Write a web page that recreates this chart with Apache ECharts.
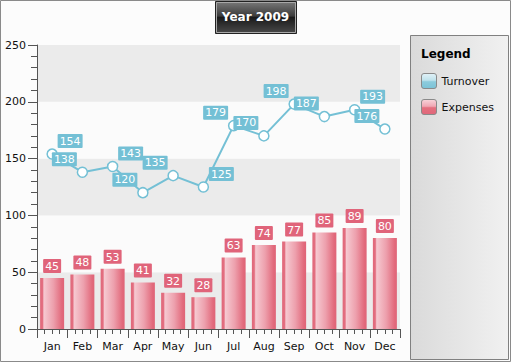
<!DOCTYPE html>
<html>
<head>
<meta charset="utf-8">
<script src="https://cdn.jsdelivr.net/npm/echarts@6/dist/echarts.min.js"></script>
<style>
html,body{margin:0;padding:0;background:#fcfcfc;}
#c{width:511px;height:362px;}
</style>
</head>
<body>
<div id="c"></div>
<script>
var months = ['Jan','Feb','Mar','Apr','May','Jun','Jul','Aug','Sep','Oct','Nov','Dec'];
var turnover = [154,138,143,120,135,125,179,170,198,187,193,176];
var expenses = [45,48,53,41,32,28,63,74,77,85,89,80];
var yTicks = [0,50,100,150,200,250];
// label side for turnover labels (+1 right, -1 left) — styling only
var turnoverLabelSide = [1,-1,1,-1,-1,1,-1,-1,-1,-1,1,-1];

var FONT = 'DejaVu Sans';
var chart = echarts.init(document.getElementById('c'), null, {renderer:'svg'});

var blueLine = '#74c0d5';
var redLabel = '#e0647a';
var iconPath = 'path://M2.5,0H12.5A2.5,2.5 0 0 1 15,2.5V12.5A2.5,2.5 0 0 1 12.5,15H2.5A2.5,2.5 0 0 1 0,12.5V2.5A2.5,2.5 0 0 1 2.5,0Z';

var barGrad = new echarts.graphic.LinearGradient(0,0,1,0,[
  {offset:0,color:'#e0687a'},{offset:0.1,color:'#e36f81'},
  {offset:0.16,color:'#f6c9d1'},{offset:0.55,color:'#eda0ad'},
  {offset:0.9,color:'#e26a7c'},{offset:1,color:'#df6477'}]);

var turnoverData = turnover.map(function(v,i){
  return {value:v, label:{offset:[turnoverLabelSide[i]*18,-13]}};
});

chart.setOption({
  backgroundColor:'#fcfcfc',
  animation:false,
  textStyle:{fontFamily:FONT},
  graphic:[
    {type:'rect',shape:{x:0.5,y:0.5,width:510,height:361},style:{fill:'none',stroke:'#8a8a8a',lineWidth:1},z:-10},
    {type:'rect',shape:{x:410.5,y:35.5,width:98,height:324},style:{
      fill:new echarts.graphic.LinearGradient(0,0,1,0,[{offset:0,color:'#dadada'},{offset:1,color:'#f1f1f1'}]),
      stroke:'#808080',lineWidth:1},z:-5},
    {type:'rect',shape:{x:215.5,y:1.5,width:81,height:32},style:{
      fill:new echarts.graphic.LinearGradient(0,0,0,1,[
        {offset:0,color:'#7a7a7a'},{offset:0.45,color:'#3c3c3c'},{offset:0.5,color:'#1a1a1a'},{offset:1,color:'#4a4a4a'}]),
      stroke:'#222',lineWidth:1},z:-5},
    {type:'rect',shape:{x:216.5,y:2.5,width:79,height:30},style:{fill:'none',stroke:'#a8a8a8',lineWidth:1},z:-4}
  ],
  title:[
    {text:'Year 2009',left:'center',top:6,
     textStyle:{color:'#fff',fontSize:12,fontWeight:'bold',fontFamily:FONT}},
    {text:'Legend',left:416,top:43,
     textStyle:{color:'#000',fontSize:12,fontWeight:'bold',fontFamily:FONT}}
  ],
  legend:{
    orient:'vertical',left:421,top:73,padding:0,itemWidth:15,itemHeight:15,itemGap:10,
    textStyle:{color:'#111',fontSize:11,fontFamily:FONT},
    data:[
      {name:'Turnover',icon:iconPath,itemStyle:{
        color:new echarts.graphic.LinearGradient(0,0,0,1,[{offset:0,color:'#e2f2f7'},{offset:0.45,color:'#bfe2ec'},{offset:0.55,color:'#8ccbdc'},{offset:1,color:'#7cc3d7'}]),
        borderColor:'#8a8a8a',borderWidth:1}},
      {name:'Expenses',icon:iconPath,itemStyle:{
        color:new echarts.graphic.LinearGradient(0,0,0,1,[{offset:0,color:'#f8d5db'},{offset:0.45,color:'#f0a8b4'},{offset:0.55,color:'#e4707f'},{offset:1,color:'#e0677a'}]),
        borderColor:'#8a8a8a',borderWidth:1}}
    ]
  },
  grid:{left:37,right:111,top:45,bottom:33},
  xAxis:[
    {type:'category',data:months,position:'bottom',boundaryGap:true,
     axisLine:{show:true,lineStyle:{color:'#555'}},
     axisTick:{show:false},
     axisLabel:{color:'#111',fontSize:11,fontFamily:FONT,margin:12,interval:0}},
    {type:'value',min:0,max:12,interval:1,position:'bottom',
     axisLine:{show:true,lineStyle:{color:'#555'}},
     axisTick:{show:true,length:9,lineStyle:{color:'#555'}},
     minorTick:{show:true,splitNumber:4,length:5,lineStyle:{color:'#555'}},
     axisLabel:{show:false},splitLine:{show:false}}
  ],
  yAxis:{
    type:'value',min:yTicks[0],max:yTicks[yTicks.length-1],interval:50,
    axisLine:{show:true,lineStyle:{color:'#555'}},
    axisTick:{show:true,length:9,lineStyle:{color:'#555'}},
    minorTick:{show:true,splitNumber:5,length:6,lineStyle:{color:'#555'}},
    axisLabel:{color:'#111',fontSize:11,fontFamily:FONT,margin:11},
    splitLine:{show:false},
    splitArea:{show:true,areaStyle:{color:['#ebebeb','#fbfbfb']}}
  },
  series:[
    {name:'Expenses',type:'bar',xAxisIndex:0,data:expenses,barWidth:24,
     itemStyle:{color:barGrad},
     label:{show:true,position:'top',distance:5,color:'#fff',fontSize:11,lineHeight:13,fontFamily:FONT,
       backgroundColor:redLabel,padding:[1,2,0,2],borderRadius:1}},
    {name:'Turnover',type:'line',xAxisIndex:0,data:turnoverData,
     lineStyle:{color:blueLine,width:2},
     symbol:'circle',symbolSize:10,
     itemStyle:{color:'#fff',borderColor:blueLine,borderWidth:1.5},
     label:{show:true,position:'inside',color:'#fff',fontSize:11,lineHeight:13,fontFamily:FONT,
       backgroundColor:blueLine,padding:[1,2,0,2],borderRadius:1},
     z:5}
  ]
});
</script>
</body>
</html>
